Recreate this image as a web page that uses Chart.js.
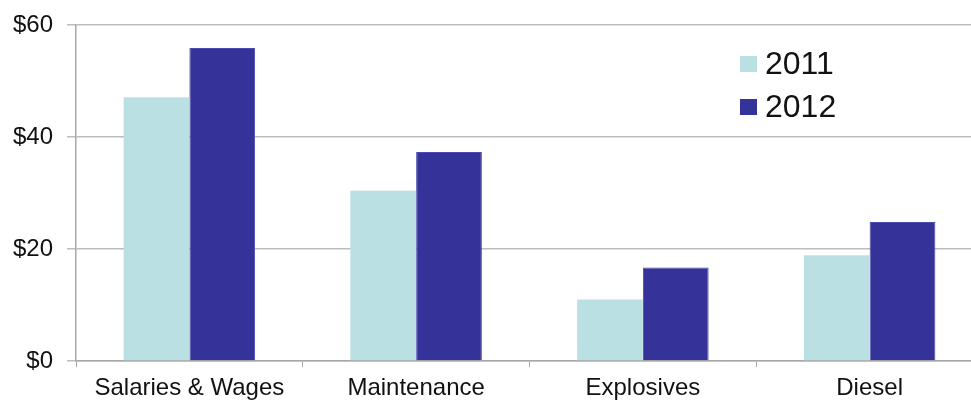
<!DOCTYPE html>
<html>
<head>
<meta charset="utf-8">
<script src="https://cdn.jsdelivr.net/npm/chart.js@4/dist/chart.umd.min.js"></script>
<style>
  html, body { margin: 0; padding: 0; background: #fff; overflow: hidden; }
  #wrap { width: 983px; height: 400px; }
</style>
</head>
<body>
<div id="wrap"><canvas id="myChart" width="983" height="400"></canvas></div>
<script>
const categories = ['Salaries & Wages', 'Maintenance', 'Explosives', 'Diesel'];
const values2011 = [47.1, 30.4, 11.0, 18.9];
const values2012 = [55.9, 37.3, 16.7, 24.8];
const yTicks = [0, 20, 40, 60];

// legend drawn inside the plot, top right
const cornerLegend = {
  id: 'cornerLegend',
  afterDraw(chart) {
    const ctx = chart.ctx;
    ctx.save();
    ctx.font = '32px "Liberation Sans", Arial, sans-serif';
    ctx.textBaseline = 'middle';
    chart.data.datasets.forEach((ds, i) => {
      const y = 64 + i * 43;
      ctx.fillStyle = ds.backgroundColor;
      ctx.fillRect(740, y - 8, 17, 16);
      ctx.fillStyle = '#111';
      ctx.fillText(ds.label, 765, y + 1);
    });
    ctx.restore();
  },
};

const canvas = document.getElementById('myChart');
const myChart = new Chart(canvas, {
  type: 'bar',
  data: {
    labels: categories,
    datasets: [
      {
        label: '2011',
        data: values2011,
        backgroundColor: '#BAE0E3',
        borderWidth: 0,
      },
      {
        label: '2012',
        data: values2012,
        backgroundColor: '#353399',
        borderColor: '#4B4AAE',
        borderWidth: 1,
      },
    ],
  },
  options: {
    responsive: false,
    animation: false,
    layout: { padding: { top: 25, right: 0, left: 0, bottom: 0 } },
    datasets: {
      bar: { barPercentage: 1, categoryPercentage: 0.58 },
    },
    plugins: {
      legend: { display: false },
      tooltip: { enabled: false },
    },
    scales: {
      x: {
        grid: {
          offset: true,
          drawOnChartArea: false,
          drawTicks: true,
          tickLength: 6,
          color: '#A8A8A8',
        },
        border: { color: '#A8A8A8', width: 1.5 },
        ticks: {
          color: '#111',
          padding: 7,
          font: { family: '"Liberation Sans", Arial, sans-serif', size: 24 },
        },
        afterFit(scale) { scale.height = 39; },
      },
      y: {
        min: 0,
        max: 60,
        afterBuildTicks(scale) { scale.ticks = yTicks.map((v) => ({ value: v })); },
        grid: { color: '#BDBDBD', lineWidth: 1.5, tickLength: 9 },
        border: { color: '#A8A8A8', width: 1.5 },
        ticks: {
          color: '#111',
          padding: 14,
          font: { family: '"Liberation Sans", Arial, sans-serif', size: 24 },
          callback: (v) => '$' + v,
        },
        afterFit(scale) {
          scale.width = 76;
          scale.paddingTop = 0;
          scale.paddingBottom = 0;
        },
      },
    },
  },
  plugins: [cornerLegend],
});
</script>
</body>
</html>
